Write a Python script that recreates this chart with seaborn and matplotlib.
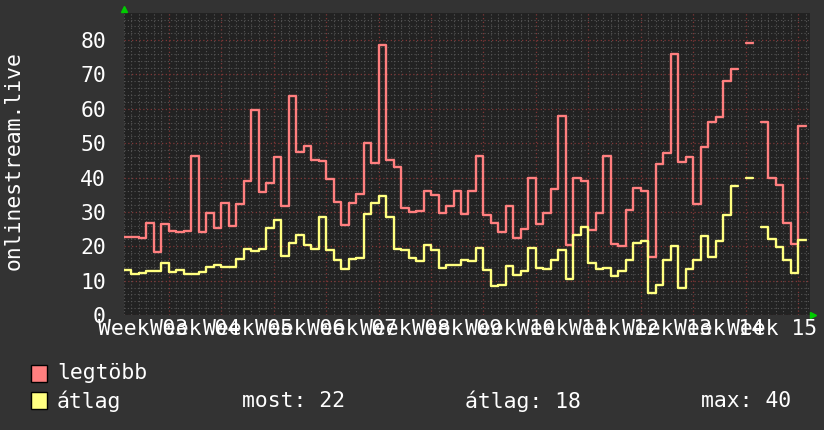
"""
onlinestream.live - napi csúcs és átlag nézőszám (rrdtool stílusú grafikon)
"""
import numpy as np
import pandas as pd
import matplotlib
matplotlib.use('Agg')
import matplotlib.pyplot as plt
from matplotlib.patches import Rectangle
import seaborn as sns

nan = np.nan

# napi értékek, 0. naptól a 90. napig
legtobb = [22.7, 22.7, 22.4, 26.9, 18.2, 26.6, 24.5, 24.2, 24.5, 46.3,
           24.2, 29.6, 25.2, 32.7, 25.9, 32.2, 39.0, 59.6, 35.9, 38.5,
           46.1, 31.6, 63.7, 47.4, 49.3, 45.1, 44.8, 39.6, 33.0, 26.3,
           32.7, 35.2, 50.1, 44.3, 78.6, 45.2, 43.0, 31.1, 30.1, 30.4,
           36.1, 35.0, 29.8, 31.7, 36.2, 29.3, 36.0, 46.4, 29.0, 26.9,
           24.1, 31.8, 22.4, 25.1, 39.8, 26.4, 29.8, 36.8, 57.9, 20.4,
           40.0, 39.1, 24.8, 29.6, 46.4, 20.8, 20.2, 30.5, 37.0, 36.2,
           16.9, 44.0, 47.2, 75.9, 44.5, 46.1, 32.2, 49.0, 56.2, 57.7,
           68.2, 71.7, nan, 79.2, nan, 56.2, 39.8, 37.9, 26.9, 20.7,
           55.1]
atlag = [13.0, 12.0, 12.3, 12.9, 12.7, 15.2, 12.5, 13.0, 12.0, 12.0,
         12.6, 14.1, 14.6, 14.1, 14.1, 16.4, 19.3, 18.7, 19.3, 25.4,
         27.7, 17.2, 21.1, 23.4, 20.5, 19.3, 28.5, 18.9, 16.0, 13.3,
         16.4, 16.7, 29.3, 32.7, 34.7, 28.6, 19.3, 18.9, 16.7, 15.6,
         20.5, 18.9, 13.8, 14.6, 14.6, 15.9, 15.6, 19.6, 13.1, 8.5,
         8.8, 14.4, 11.7, 12.7, 19.5, 13.8, 13.5, 16.1, 18.8, 10.4,
         23.3, 25.7, 15.2, 13.3, 13.6, 11.4, 12.7, 16.1, 21.1, 21.4,
         6.4, 8.8, 16.1, 20.1, 7.8, 13.3, 16.1, 23.0, 16.8, 21.6,
         29.0, 37.6, nan, 39.9, nan, 25.7, 22.2, 19.9, 15.9, 12.2,
         21.8]

week_labels = ['Week %02d' % w for w in range(3, 16)]
week_starts = np.arange(6, 91, 7)          # hét határok (napban)
week_centers = week_starts - 3.5

BG = '#333333'
CANVAS = '#222222'
RED = '#ff7f7f'
YELLOW = '#ffff80'
FONT = ['DejaVu Sans Mono']


def step_rows(values, name):
    """lépcsős vonal pontjai, NaN-nál új szakasz"""
    rows = []
    seg = 0
    for d, v in enumerate(values):
        if np.isnan(v):
            seg += 1
            continue
        rows.append((name, seg, d, v))
        rows.append((name, seg, d + 1, v))
    return rows


df = pd.DataFrame(step_rows(legtobb, 'legtöbb') + step_rows(atlag, 'átlag'),
                  columns=['series', 'seg', 'day', 'value'])

sns.set_theme(style='dark', rc={
    'figure.facecolor': BG,
    'axes.facecolor': CANVAS,
    'axes.edgecolor': '#3a3a3a',
    'text.color': 'white',
    'xtick.color': 'white',
    'ytick.color': 'white',
})
plt.rcParams['font.family'] = FONT

fig = plt.figure(figsize=(8.24, 4.30), dpi=100)
ax = fig.add_axes([124 / 824, 115 / 430, 686 / 824, 302 / 430])

sns.lineplot(data=df, x='day', y='value', hue='series', units='seg',
             estimator=None, sort=False, palette={'legtöbb': RED, 'átlag': YELLOW},
             linewidth=1.7, legend=False, ax=ax)

ax.set_xlim(0, 91.6)
ax.set_ylim(0, 87.9)

# rács
ax.set_xticks(week_starts)
ax.set_xticks(np.arange(0, 92), minor=True)
ax.set_yticks(np.arange(0, 81, 10))
ax.set_yticks(np.arange(0, 88, 2), minor=True)
ax.grid(which='minor', color='#555555', linestyle=(0, (1, 2)), linewidth=0.8)
ax.grid(which='major', color='#803636', linestyle=(0, (1, 2)), linewidth=0.9)
ax.set_axisbelow(True)

ax.set_xticklabels([])
ax.tick_params(axis='x', which='major', length=3, color='#aa3333', pad=0)
ax.tick_params(axis='x', which='minor', length=2, color='#666666')
ax.tick_params(axis='y', which='both', length=0, pad=13, labelsize=15.4)
ax.set_yticklabels([str(v) for v in range(0, 81, 10)])
ax.set_xlabel('')
ax.set_ylabel('')
for s in ax.spines.values():
    s.set_visible(False)

# a hét feliratok átfedik egymást, ahogy az eredetin is
trans = matplotlib.transforms.blended_transform_factory(ax.transData, ax.transAxes)
for xc, lab in zip(week_centers, week_labels):
    ax.text(xc, -0.046, lab, transform=trans, ha='center', va='center',
            fontsize=15.4, color='white', clip_on=False)

# zöld nyilak a tengelyek végén
ax.plot([0], [1.012], marker='^', color='#00cc00', markersize=5,
        transform=ax.transAxes, clip_on=False)
ax.plot([1.004], [0], marker='>', color='#00cc00', markersize=5,
        transform=ax.transAxes, clip_on=False)

fig.text(14 / 824, 1 - 161 / 430, 'onlinestream.live', rotation=90,
         ha='center', va='center', fontsize=15.4, color='white')

# jelmagyarázat
fig.add_artist(Rectangle((31 / 824, 1 - 382 / 430), 16 / 824, 17 / 430,
                         transform=fig.transFigure, facecolor=RED,
                         edgecolor='black', linewidth=1))
fig.add_artist(Rectangle((31 / 824, 1 - 409 / 430), 16 / 824, 17 / 430,
                         transform=fig.transFigure, facecolor=YELLOW,
                         edgecolor='black', linewidth=1))
fig.text(57 / 824, 1 - 373 / 430, 'legtöbb', va='center', fontsize=15.4)
fig.text(57 / 824, 1 - 401 / 430, 'átlag', va='center', fontsize=15.4)

valid = [v for v in atlag if not np.isnan(v)]
fig.text(242 / 824, 1 - 401 / 430, 'most: %.0f' % valid[-1], va='center', fontsize=15.4)
fig.text(465 / 824, 1 - 401 / 430, 'átlag: %.0f' % np.mean(valid), va='center', fontsize=15.4)
fig.text(701 / 824, 1 - 401 / 430, 'max: %.0f' % np.max(valid), va='center', fontsize=15.4)

fig.savefig('out.png', dpi=100, facecolor=BG)
print('out.png mentve')
